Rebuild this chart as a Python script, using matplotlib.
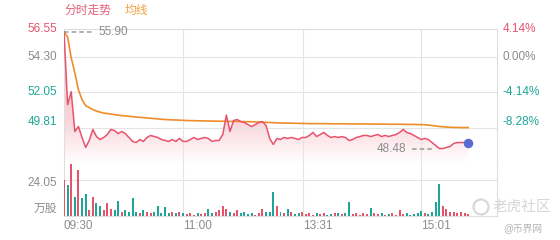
import numpy as np
import matplotlib.pyplot as plt
from matplotlib.colors import LinearSegmentedColormap
from matplotlib.patches import PathPatch, Circle

plt.rcParams['font.family'] = ['Liberation Sans', 'Noto Sans CJK SC', 'DejaVu Sans']

# Data (2-minute samples)
minutes = np.arange(0, 225, 2)

price = [
    55.90, 51.27, 52.09, 49.56, 49.88, 49.18, 48.55, 48.99, 49.69, 49.24,
    49.05, 49.18, 49.37, 49.69, 49.62, 49.43, 49.56, 49.43, 49.18, 48.93,
    48.86, 49.05, 48.93, 49.18, 49.31, 49.24, 49.18, 49.05, 48.99, 48.93,
    49.05, 48.93, 49.12, 48.93, 48.93, 49.05, 49.18, 49.05, 49.12, 49.18,
    49.12, 48.93, 48.99, 48.99, 49.37, 50.60, 49.56, 50.26, 50.32, 50.19,
    50.13, 50.00, 49.88, 50.00, 50.13, 50.19, 49.94, 49.12, 48.74, 49.12,
    49.05, 49.18, 49.12, 49.18, 49.12, 49.05, 49.18, 49.18, 49.31, 49.50,
    49.24, 49.37, 49.50, 49.31, 49.18, 49.24, 49.18, 49.24, 49.18, 48.99,
    49.05, 49.18, 49.24, 49.31, 49.31, 49.24, 49.31, 49.37, 49.24, 49.31,
    49.24, 49.31, 49.37, 49.50, 49.69, 49.50, 49.43, 49.31, 49.18, 49.05,
    49.12, 49.05, 48.86, 48.67, 48.48, 48.48, 48.55, 48.61, 48.80, 48.86,
    48.86, 48.86, 48.86,
]

avg_price = [
    55.90, 55.56, 54.24, 53.29, 52.21, 51.58, 51.20, 51.08, 50.95, 50.86,
    50.79, 50.73, 50.70, 50.67, 50.63, 50.60, 50.57, 50.55, 50.53, 50.50,
    50.48, 50.46, 50.44, 50.42, 50.40, 50.38, 50.36, 50.34, 50.32, 50.31,
    50.30, 50.29, 50.28, 50.27, 50.26, 50.25, 50.25, 50.24, 50.24, 50.23,
    50.23, 50.22, 50.22, 50.21, 50.21, 50.21, 50.20, 50.20, 50.20, 50.19,
    50.19, 50.18, 50.18, 50.17, 50.16, 50.15, 50.14, 50.13, 50.12, 50.11,
    50.10, 50.10, 50.09, 50.09, 50.08, 50.08, 50.07, 50.07, 50.06, 50.06,
    50.06, 50.06, 50.06, 50.06, 50.05, 50.05, 50.05, 50.05, 50.05, 50.04,
    50.04, 50.04, 50.04, 50.04, 50.04, 50.03, 50.03, 50.03, 50.03, 50.03,
    50.02, 50.02, 50.02, 50.02, 50.02, 50.01, 50.01, 50.01, 50.00, 50.00,
    49.99, 49.97, 49.94, 49.91, 49.88, 49.86, 49.84, 49.83, 49.82, 49.82,
    49.81, 49.81, 49.81,
]

volume = [
    24, 21, 35, 13, 31, 12, 15, 4, 13, 9,
    7, 4, 9, 5, 4, 10, 3, 4, 3, 12,
    3, 2, 4, 3, 2, 3, 7, 2, 6, 2,
    3, 2, 3, 2, 1.5, 2, 1, 2, 1.5, 2,
    5, 2, 3, 4, 7, 5, 3, 2, 4, 2,
    3, 1.5, 2, 1, 2, 5, 3, 3, 16, 7,
    3, 2, 4.5, 3, 1.5, 2, 3, 1.5, 2, 1,
    2, 1.5, 2, 1, 1.5, 2, 2, 1.5, 2, 9.4,
    1.5, 2, 1, 2, 1.5, 5.3, 2, 1.5, 2, 1,
    1.5, 2, 1, 4, 1.5, 2, 1, 1.5, 2, 3.5,
    2, 1.5, 3, 9.4, 21.4, 7, 5, 3, 2.5, 2,
    3, 2, 1.5,
]

prev_close = 54.30
price_ticks = [56.55, 54.30, 52.05, 49.81]
pct_labels = ['4.14%', '0.00%', '-4.14%', '-8.28%']
vol_tick = 24.05
time_ticks = [0, 66, 132.5, 198]
time_labels = ['09:30', '11:00', '13:31', '15:01']

RED = '#e8536c'
TEAL = '#1fa597'
GRAY = '#8c8c8c'
ORANGE = '#f08c2a'
GRID = '#e4e4e4'
FS = 8.5

price = np.array(price)
avg_price = np.array(avg_price)
volume = np.array(volume)

fig = plt.figure(figsize=(5.6, 2.4), dpi=100)
ax = fig.add_axes([64 / 560, 77 / 240, 433 / 560, 134 / 240])
axv = fig.add_axes([64 / 560, 24 / 240, 433 / 560, 53 / 240], sharex=ax)

y_lo, y_hi = 47.56, 56.07

# gradient fill under price
poly = ax.fill_between(minutes, price, y_lo, color='none', lw=0)
cmap = LinearSegmentedColormap.from_list(
    'fade', [(0, '#ffffff'), (0.3, '#fad6dd'), (1, '#f5b3c0')])
grad = np.linspace(0, 1, 256).reshape(-1, 1)
im = ax.imshow(grad, extent=[minutes[0], minutes[-1], y_lo, y_hi],
               origin='lower', aspect='auto', cmap=cmap, zorder=1)
clip = PathPatch(poly.get_paths()[0], transform=ax.transData,
                 facecolor='none', edgecolor='none')
ax.add_patch(clip)
im.set_clip_path(clip)

ax.plot(minutes, avg_price, color=ORANGE, lw=1.2, zorder=3)
ax.plot(minutes, price, color=RED, lw=1.1, zorder=4)
ax.scatter(minutes[-1], price[-1], s=34, color='#5a6bd2', zorder=5)

# high / low markers
hi = int(np.argmax(price))
lo = int(np.argmin(price))
ax.hlines(price[hi], minutes[hi], minutes[hi] + 16, colors='#9a9a9a',
          linestyles=(0, (3, 2)), lw=1.1, zorder=5)
ax.annotate(f'{price[hi]:.2f}', xy=(minutes[hi] + 16, price[hi]),
            xytext=(4, 0), textcoords='offset points', va='center',
            ha='left', color=GRAY, fontsize=FS)
ax.hlines(price[lo], minutes[lo] - 15, minutes[lo] - 3, colors='#9a9a9a',
          linestyles=(0, (3, 2)), lw=1.1, zorder=5)
ax.annotate(f'{price[lo]:.2f}', xy=(minutes[lo] - 15, price[lo]),
            xytext=(-4, 0), textcoords='offset points', va='center',
            ha='right', color=GRAY, fontsize=FS)

ax.set_yticks([t for t in price_ticks if t < y_hi])
ax.set_xlim(0, 240)
ax.set_ylim(y_lo, y_hi)
ax.grid(True, color=GRID, lw=0.8)
ax.tick_params(left=False, labelleft=False, bottom=False, labelbottom=False)

for i, (t, pl) in enumerate(zip(price_ticks, pct_labels)):
    c = RED if t > prev_close else (GRAY if t == prev_close else TEAL)
    yy = min(t, y_hi)
    va = 'bottom' if i == len(price_ticks) - 1 else 'center'
    ax.annotate(f'{t:.2f}', xy=(0, yy), xycoords=('axes fraction', 'data'),
                xytext=(-5, 0), textcoords='offset points', ha='right',
                va=va, color=c, fontsize=FS, annotation_clip=False)
    ax.annotate(pl, xy=(1, yy), xycoords=('axes fraction', 'data'),
                xytext=(4, 0), textcoords='offset points', ha='left',
                va=va, color=c, fontsize=FS, annotation_clip=False)

for s in ['top', 'left', 'right']:
    ax.spines[s].set_color('#dedede')
    ax.spines[s].set_linewidth(0.8)
ax.spines['bottom'].set_visible(False)

# volume
up = np.diff(price, prepend=price[0] - 1) >= 0
bar_colors = [RED if u else TEAL for u in up]
axv.bar(minutes, volume, width=1.1, color=bar_colors, zorder=3)
axv.set_ylim(0, 35.4)
axv.set_yticks([vol_tick])
axv.grid(True, color=GRID, lw=0.8)
axv.tick_params(left=False, labelleft=False, length=0)
axv.annotate(f'{vol_tick:.2f}', xy=(0, vol_tick), xycoords=('axes fraction', 'data'),
             xytext=(-5, -2), textcoords='offset points', ha='right', va='center',
             color=GRAY, fontsize=FS, annotation_clip=False)
axv.annotate('万股', xy=(0, 0), xycoords=('axes fraction', 'data'),
             xytext=(-5, 1), textcoords='offset points', ha='right', va='bottom',
             color=GRAY, fontsize=FS, annotation_clip=False)
axv.set_xticks(time_ticks, time_labels)
for t in axv.get_xticklabels():
    t.set_ha('left')
axv.tick_params(axis='x', length=0, pad=3, labelcolor=GRAY, labelsize=FS)
for s in ['bottom', 'left', 'right']:
    axv.spines[s].set_color('#dedede')
    axv.spines[s].set_linewidth(0.8)
axv.spines['top'].set_visible(False)

# header
fig.text(64 / 560, 1 - 11 / 240, '分时走势', color='#e2607a', va='center', fontsize=FS)
fig.text(125 / 560, 1 - 11 / 240, '均线', color='#f2a040', va='center', fontsize=FS)

# watermark
fig.text(493 / 560, 1 - 207 / 240, '老虎社区', color='#d6d6d6', va='center', fontsize=10.5)
fig.add_artist(Circle((4.81, 0.33), 0.075, transform=fig.dpi_scale_trans,
                      fill=False, edgecolor='#d6d6d6', lw=1.5))
fig.text(503 / 560, 1 - 229 / 240, '@币界网', color='#b4b4b4', va='center', fontsize=7)

fig.savefig('out.png', dpi=100)
